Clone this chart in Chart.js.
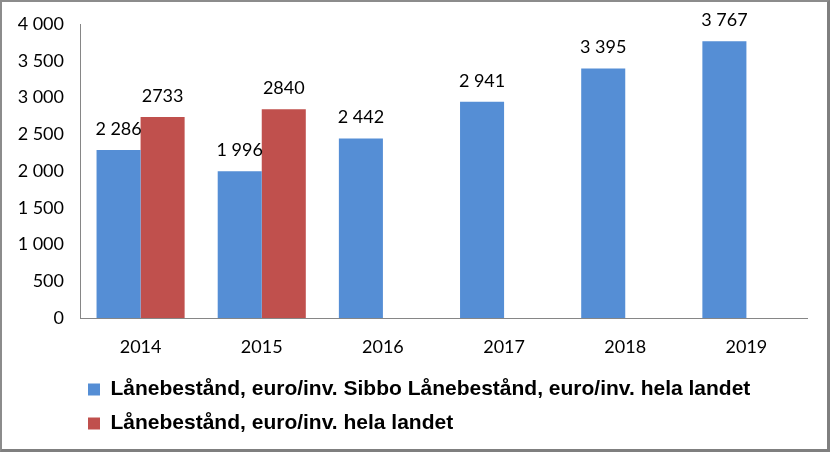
<!DOCTYPE html>
<html>
<head>
<meta charset="utf-8">
<script src="https://cdn.jsdelivr.net/npm/chart.js@4/dist/chart.umd.min.js"></script>
<style>
  body { margin: 0; background: #fff; }
  #frame {
    position: relative;
    width: 830px; height: 452px;
    box-sizing: border-box;
    border-style: solid;
    border-color: #8c8c8c #7f7f7f #7f7f7f #8c8c8c;
    border-width: 2px 3px 3px 2px;
    background: #fff;
  }
</style>
</head>
<body>
<div id="frame"><canvas id="chartCanvas"></canvas></div>
<script>
// chart data
const years = ['2014', '2015', '2016', '2017', '2018', '2019'];
const sibboValues = [2286, 1996, 2442, 2941, 3395, 3767];
const landetValues = [2733, 2840, null, null, null, null];
const seriesNames = [
  'Lånebestånd, euro/inv. Sibbo Lånebestånd, euro/inv. hela landet',
  'Lånebestånd, euro/inv. hela landet'
];

// "2 286" style numbers
function spaced(v) {
  return String(v).replace(/\B(?=(\d{3})+(?!\d))/g, ' ');
}

// draws the value above each bar
const valueLabels = {
  id: 'valueLabels',
  afterDatasetsDraw(chart) {
    const ctx = chart.ctx;
    ctx.save();
    ctx.font = '18px Lato';
    ctx.fillStyle = '#000';
    ctx.textAlign = 'center';
    ctx.textBaseline = 'middle';
    chart.data.datasets.forEach((ds, i) => {
      chart.getDatasetMeta(i).data.forEach((bar, j) => {
        const v = ds.data[j];
        if (v == null) return;
        const txt = i === 0 ? spaced(v) : String(v);
        ctx.fillText(txt, bar.x, bar.y - 21);
      });
    });
    ctx.restore();
  }
};

// move the legend rows so they start under the plot, left aligned
const legendShift = {
  id: 'legendShift',
  afterLayout(chart) {
    chart.legend.left += 73;
  }
};

function renderChart() {
  const ctx = document.getElementById('chartCanvas').getContext('2d');
  new Chart(ctx, {
    type: 'bar',
    data: {
      labels: years,
      datasets: [{
        label: seriesNames[0],
        data: sibboValues,
        backgroundColor: '#558ed5'
      }, {
        label: seriesNames[1],
        data: landetValues,
        backgroundColor: '#c0504d'
      }]
    },
    options: {
      responsive: true,
      maintainAspectRatio: false,
      animation: false,
      categoryPercentage: 0.727,
      barPercentage: 1.0,
      layout: { padding: { top: 22, right: 20, bottom: 5, left: 0 } },
      plugins: {
        tooltip: { enabled: false },
        legend: {
          position: 'bottom',
          align: 'start',
          labels: {
            color: '#000',
            font: { family: 'Liberation Sans', size: 21, weight: 'bold' },
            boxWidth: 12,
            boxHeight: 12,
            padding: 13
          }
        }
      },
      scales: {
        x: {
          grid: { display: false, drawTicks: false },
          border: { display: true, color: '#868686', width: 1 },
          ticks: { color: '#000', font: { family: 'Lato', size: 18 }, padding: 18 },
          afterFit(scale) { scale.height = 48; }
        },
        y: {
          min: 0,
          max: 4000,
          grid: { display: false, drawTicks: false },
          border: { display: true, color: '#868686', width: 1 },
          ticks: {
            stepSize: 500,
            color: '#000',
            font: { family: 'Lato', size: 18 },
            padding: 16,
            callback: v => spaced(v)
          },
          afterFit(scale) { scale.width = 78; scale.paddingTop = 0; scale.paddingBottom = 0; }
        }
      }
    },
    plugins: [valueLabels, legendShift]
  });
}

window.onload = renderChart;
</script>
</body>
</html>
